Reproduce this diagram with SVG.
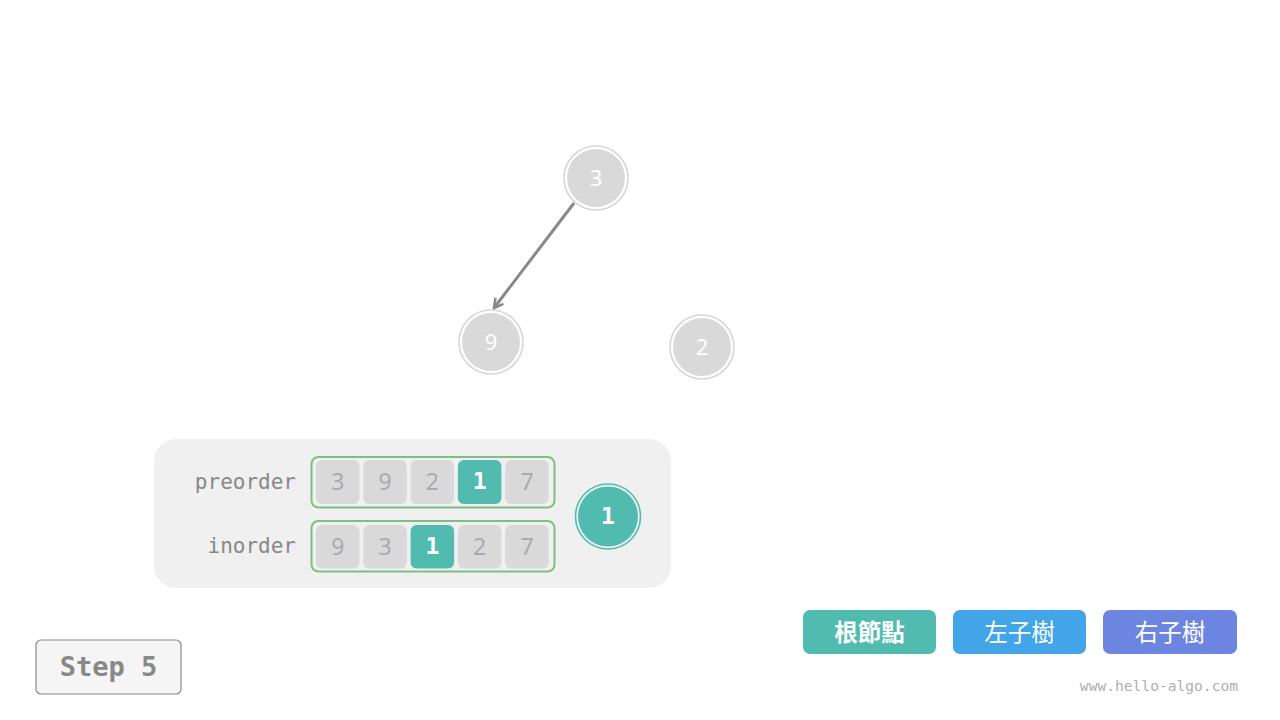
<svg xmlns="http://www.w3.org/2000/svg" width="1280" height="720" viewBox="0 0 1280 720">
<defs>
<style>
.tnode{fill:#d9d9d9;}
.tring{fill:none;stroke:#d6d6d6;stroke-width:1.6;}
.tnum{font-family:"Noto Sans","DejaVu Sans",sans-serif;font-size:22px;fill:#ffffff;text-anchor:middle;dominant-baseline:central;}
.cell{fill:#d9d9d9;}
.cellh{fill:#52bbb0;}
.cnum{font-family:"Noto Sans","DejaVu Sans",sans-serif;font-size:23px;fill:#a9abb2;text-anchor:middle;dominant-baseline:central;}
.cnumh{font-family:"DejaVu Sans Mono",monospace;font-weight:bold;font-size:23px;fill:#ffffff;text-anchor:middle;dominant-baseline:central;}
.arr{fill:none;stroke:#80bf83;stroke-width:2;}
.lbl{font-family:"DejaVu Sans Mono","Liberation Mono",monospace;font-size:21px;fill:#888888;text-anchor:end;dominant-baseline:central;}
.leg{font-family:"Noto Sans CJK TC","Noto Sans CJK SC",sans-serif;font-size:23.5px;fill:#ffffff;text-anchor:middle;dominant-baseline:central;}
.edge{stroke:#888888;stroke-width:3;fill:none;}
</style>
<marker id="ah" viewBox="0 0 12 12" refX="10" refY="6" markerWidth="12" markerHeight="12" markerUnits="userSpaceOnUse" orient="auto">
<path d="M1,1 L10,6 L1,11" fill="none" stroke="#888888" stroke-width="2.6" stroke-linejoin="miter"/>
</marker>
</defs>
<rect width="1280" height="720" fill="#ffffff"/>

<g id="connectors">
<line class="edge" x1="574" y1="203" x2="494" y2="308" marker-end="url(#ah)"/>
</g>

<g id="node-3">
<circle class="tnode" cx="596" cy="178" r="29"/>
<circle class="tring" cx="596" cy="178" r="32"/>
<text class="tnum" x="596" y="177">3</text>
</g>
<g id="node-9">
<circle class="tnode" cx="491" cy="342" r="29"/>
<circle class="tring" cx="491" cy="342" r="32"/>
<text class="tnum" x="491" y="341">9</text>
</g>
<g id="node-2">
<circle class="tnode" cx="702" cy="347" r="29"/>
<circle class="tring" cx="702" cy="347" r="32"/>
<text class="tnum" x="702" y="346">2</text>
</g>

<g id="panel">
<rect x="154" y="439" width="517" height="149" rx="22" fill="#f0f0f0"/>
<text class="lbl" x="296" y="482">preorder</text>
<text class="lbl" x="296" y="546">inorder</text>
</g>

<g id="preorder">
<rect class="arr" x="311.5" y="457" width="243" height="50.5" rx="7"/>
<rect class="cell" x="316" y="460" width="43.5" height="44" rx="6"/>
<rect class="cell" x="363.3" y="460" width="43.5" height="44" rx="6"/>
<rect class="cell" x="410.6" y="460" width="43.5" height="44" rx="6"/>
<rect class="cellh" x="457.9" y="460" width="43.5" height="44" rx="6"/>
<rect class="cell" x="505.2" y="460" width="43.5" height="44" rx="6"/>
<text class="cnum" x="337.8" y="481">3</text>
<text class="cnum" x="385.1" y="481">9</text>
<text class="cnum" x="432.4" y="481">2</text>
<text class="cnumh" x="479.7" y="481">1</text>
<text class="cnum" x="527" y="481">7</text>
</g>

<g id="inorder">
<rect class="arr" x="311.5" y="521" width="243" height="50.5" rx="7"/>
<rect class="cell" x="316" y="525" width="43.5" height="43.5" rx="6"/>
<rect class="cell" x="363.3" y="525" width="43.5" height="43.5" rx="6"/>
<rect class="cellh" x="410.6" y="525" width="43.5" height="43.5" rx="6"/>
<rect class="cell" x="457.9" y="525" width="43.5" height="43.5" rx="6"/>
<rect class="cell" x="505.2" y="525" width="43.5" height="43.5" rx="6"/>
<text class="cnum" x="337.8" y="546">9</text>
<text class="cnum" x="385.1" y="546">3</text>
<text class="cnumh" x="432.4" y="546">1</text>
<text class="cnum" x="479.7" y="546">2</text>
<text class="cnum" x="527" y="546">7</text>
</g>

<g id="node-1">
<circle cx="608" cy="516.5" r="30" fill="#52bbb0"/>
<circle cx="608" cy="516.5" r="32.5" fill="none" stroke="#52bbb0" stroke-width="1.6"/>
<text class="cnumh" x="608" y="516">1</text>
</g>

<g id="legend-root">
<rect x="803" y="610" width="133" height="44" rx="7" fill="#52bbb0"/>
<text class="leg" x="869.5" y="631" font-weight="bold">根節點</text>
</g>
<g id="legend-left">
<rect x="953" y="610" width="133" height="44" rx="7" fill="#41a5e8"/>
<text class="leg" x="1019.5" y="631">左子樹</text>
</g>
<g id="legend-right">
<rect x="1103" y="610" width="134" height="44" rx="7" fill="#6c85e0"/>
<text class="leg" x="1170" y="631">右子樹</text>
</g>

<g id="step">
<rect x="36" y="640" width="145" height="54" rx="5" fill="#f5f5f5" stroke="#8a8a8a" stroke-width="1.2"/>
<text x="108.5" y="666" font-family="DejaVu Sans Mono, Liberation Mono, monospace" font-weight="bold" font-size="27" fill="#888888" text-anchor="middle" dominant-baseline="central">Step 5</text>
</g>

<text x="1238" y="685" font-family="DejaVu Sans Mono, Liberation Mono, monospace" font-size="14.6" fill="#aab0b5" text-anchor="end" dominant-baseline="central">www.hello-algo.com</text>
</svg>
